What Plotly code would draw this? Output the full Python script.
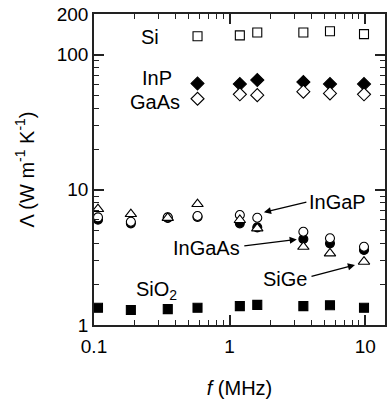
import math
import plotly.graph_objects as go

freq = [0.107, 0.187, 0.35, 0.58, 1.19, 1.6, 3.5, 5.5, 9.8]
freq_hi = [0.58, 1.19, 1.6, 3.5, 5.5, 9.8]

si = [137, 139, 146, 146, 149, 142]
inp = [61.3, 60.6, 64.9, 62.7, 60.6, 60.6]
gaas = [47.2, 50.9, 50.2, 53.2, 51.7, 50.9]
sio2 = [1.34, 1.29, 1.31, 1.34, 1.38, 1.41, 1.38, 1.40, 1.34]
ingap = [6.26, 5.81, 6.26, 6.40, 6.51, 6.22, 4.90, 4.38, 3.79]
ingaas = [6.02, 5.65, 6.20, 6.30, 5.65, 5.28, 4.33, 4.02, 3.59]
sige = [7.21, 6.62, 6.20, 7.85, 5.98, 5.19, 3.79, 3.39, 2.94]

x_ticks = [0.1, 1, 10]
x_ticktext = ["0.1", "1", "10"]
y_ticks = [1, 10, 100, 200]
y_ticktext = ["1", "10", "100", "200"]

FONT = "Liberation Sans, Arial, sans-serif"
LW = 1.1

fig = go.Figure()

def add(xs, ys, symbol, size, fill):
    fig.add_trace(go.Scatter(
        x=xs, y=ys, mode="markers", showlegend=False,
        marker=dict(symbol=symbol, size=size, color=fill,
                    line=dict(color="black", width=LW)),
    ))

add(freq, sio2, "square", 9, "black")
add(freq_hi, si, "square", 9, "white")
add(freq_hi, inp, "diamond", 10, "black")
add(freq_hi, gaas, "diamond", 10, "white")
add(freq, ingaas, "circle", 9, "black")
add(freq, ingap, "circle", 9, "white")
add(freq, sige, "triangle-up", 10, "white")

minor_x = [k * 10 ** e for e in (-1, 0) for k in range(2, 10)]
minor_y = [k * 10 ** e for e in (0, 1) for k in range(2, 10)]

axis_common = dict(
    type="log", showgrid=False, zeroline=False, automargin=False,
    showline=True, linecolor="#222", linewidth=1.5,
    mirror="ticks", ticks="inside", ticklen=10, tickwidth=1.5,
    tickcolor="#222",
    tickfont=dict(family=FONT, size=19, color="black"),
)

fig.update_xaxes(
    **axis_common,
    range=[-1, math.log10(14)],
    tickmode="array", tickvals=x_ticks, ticktext=x_ticktext,
    ticklabelstandoff=3,
    minor=dict(tickmode="array", tickvals=minor_x, ticks="inside",
               ticklen=5, tickwidth=1.2, tickcolor="#222"),
    title=dict(text="<i>f</i> (MHz)", font=dict(family=FONT, size=20, color="black"),
               standoff=34),
)
fig.update_yaxes(
    **axis_common,
    range=[0, math.log10(200)],
    tickmode="array", tickvals=y_ticks, ticktext=y_ticktext,
    minor=dict(tickmode="array", tickvals=minor_y, ticks="inside",
               ticklen=5, tickwidth=1.2, tickcolor="#222"),
    title=dict(text="Λ (W m<sup>-1</sup> K<sup>-1</sup>)",
               font=dict(family=FONT, size=20, color="black"), standoff=17),
)

labels = [
    ("Si", 0.259, 135.6),
    ("InP", 0.290, 67.1),
    ("GaAs", 0.282, 44.8),
    ("SiO<sub>2</sub>", 0.291, 1.80),
    ("InGaP", 6.29, 8.17),
    ("InGaAs", 0.67, 3.74),
    ("SiGe", 2.58, 2.19),
]
for txt, x, y in labels:
    fig.add_annotation(x=math.log10(x), y=math.log10(y), text=txt, showarrow=False,
                       font=dict(family=FONT, size=20, color="black"))

# arrows: head (data), tail offset (pixels)
arrows = [
    (1.79, 6.82, 44, -10.6),
    (3.13, 4.30, -54, 6.7),
    (8.41, 2.78, -45, 11.7),
]
for x, y, ax, ay in arrows:
    fig.add_annotation(x=math.log10(x), y=math.log10(y), text="", showarrow=True,
                       ax=ax, ay=ay, arrowhead=2, arrowsize=1.1, arrowwidth=1.3,
                       arrowcolor="black")

fig.update_layout(
    width=389, height=399,
    margin=dict(l=94, r=4, t=14, b=74),
    plot_bgcolor="white", paper_bgcolor="white",
    font=dict(family=FONT, size=18, color="black"),
)

fig.write_html("out.html")
